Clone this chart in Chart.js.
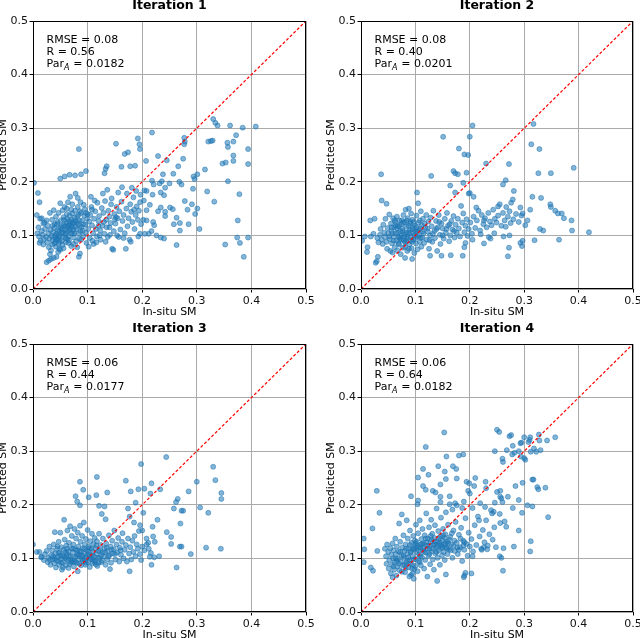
<!DOCTYPE html>
<html>
<head>
<meta charset="utf-8">
<script src="https://cdn.jsdelivr.net/npm/chart.js@4.4.0/dist/chart.umd.min.js"></script>
<style>
  html, body { margin: 0; padding: 0; background: #fff; }
  #fig { position: relative; width: 640px; height: 638px; overflow: hidden; }
  .panel { position: absolute; }
</style>
</head>
<body>
<div id="fig">
  <div class="panel" style="left:0;top:0"><canvas id="c1" width="320" height="320"></canvas></div>
  <div class="panel" style="left:320px;top:0"><canvas id="c2" width="320" height="320"></canvas></div>
  <div class="panel" style="left:0;top:320px"><canvas id="c3" width="320" height="318"></canvas></div>
  <div class="panel" style="left:320px;top:320px"><canvas id="c4" width="320" height="318"></canvas></div>
</div>
<script>
// ==================== DATA ====================
const panelTitles = ['Iteration 1', 'Iteration 2', 'Iteration 3', 'Iteration 4'];
const rmseValues = ['0.08', '0.08', '0.06', '0.06'];
const rValues = ['0.56', '0.40', '0.44', '0.64'];
const parValues = ['0.0182', '0.0201', '0.0177', '0.0182'];
const tickValues = [0, 0.1, 0.2, 0.3, 0.4, 0.5];
const oneToOne = [0, 0.5];

// [in-situ, predicted]
const iter1Points = [
  [0.002,0.198],[0.009,0.179],[0.012,0.162],[0.084,0.261],[0.097,0.22],[0.058,0.21],[0.067,0.213],[0.077,0.212],
  [0.05,0.206],[0.088,0.214],[0.152,0.271],[0.135,0.229],[0.133,0.224],[0.131,0.216],[0.168,0.252],[0.174,0.255],
  [0.192,0.281],[0.195,0.27],[0.196,0.261],[0.218,0.292],[0.207,0.239],[0.162,0.228],[0.178,0.229],[0.187,0.23],
  [0.229,0.248],[0.245,0.24],[0.275,0.243],[0.277,0.282],[0.278,0.275],[0.277,0.27],[0.257,0.215],[0.266,0.229],
  [0.268,0.2],[0.272,0.195],[0.294,0.21],[0.301,0.214],[0.296,0.205],[0.293,0.187],[0.315,0.223],[0.321,0.275],
  [0.326,0.276],[0.329,0.277],[0.33,0.317],[0.334,0.31],[0.338,0.305],[0.361,0.305],[0.384,0.301],[0.408,0.303],
  [0.372,0.287],[0.367,0.275],[0.356,0.273],[0.357,0.265],[0.394,0.261],[0.367,0.249],[0.367,0.239],[0.347,0.234],
  [0.353,0.236],[0.394,0.233],[0.357,0.201],[0.319,0.182],[0.332,0.163],[0.378,0.177],[0.278,0.164],[0.291,0.158],
  [0.301,0.15],[0.283,0.148],[0.297,0.14],[0.305,0.112],[0.285,0.121],[0.269,0.109],[0.269,0.123],[0.258,0.121],
  [0.263,0.133],[0.375,0.128],[0.374,0.096],[0.379,0.086],[0.394,0.096],[0.352,0.083],[0.386,0.06],[0.263,0.082],
  [0.24,0.094],[0.234,0.096],[0.226,0.1],[0.217,0.108],[0.222,0.119],[0.22,0.125],[0.229,0.145],[0.234,0.152],
  [0.242,0.144],[0.242,0.136],[0.251,0.152],[0.256,0.149],[0.234,0.18],[0.24,0.175],[0.242,0.189],[0.25,0.197],
  [0.236,0.201],[0.232,0.197],[0.238,0.214],[0.218,0.202],[0.221,0.195],[0.219,0.176],[0.208,0.183],[0.204,0.184],
  [0.214,0.157],[0.208,0.147],[0.203,0.165],[0.202,0.129],[0.208,0.128],[0.205,0.103],[0.212,0.103],[0.196,0.103],
  [0.008,0.104],[0.011,0.098],[0.014,0.09],[0.012,0.086],[0.018,0.101],[0.02,0.093],[0.016,0.108],[0.022,0.112],
  [0.024,0.097],[0.026,0.087],[0.019,0.083],[0.028,0.104],[0.03,0.094],[0.027,0.118],[0.021,0.124],[0.025,0.128],
  [0.013,0.131],[0.031,0.142],[0.029,0.078],[0.033,0.072],[0.025,0.05],[0.029,0.053],[0.033,0.056],[0.038,0.058],
  [0.043,0.06],[0.031,0.065],[0.035,0.083],[0.034,0.099],[0.036,0.091],[0.037,0.106],[0.039,0.114],[0.04,0.096],
  [0.041,0.088],[0.042,0.079],[0.043,0.103],[0.044,0.121],[0.045,0.11],[0.046,0.092],[0.047,0.084],[0.048,0.075],
  [0.049,0.099],[0.05,0.115],[0.051,0.128],[0.052,0.105],[0.053,0.09],[0.054,0.082],[0.055,0.097],[0.056,0.134],
  [0.057,0.12],[0.058,0.111],[0.059,0.102],[0.06,0.087],[0.035,0.129],[0.038,0.147],[0.042,0.135],[0.047,0.142],
  [0.05,0.16],[0.054,0.147],[0.058,0.153],[0.062,0.14],[0.04,0.121],[0.044,0.094],[0.048,0.108],[0.052,0.118],
  [0.056,0.076],[0.046,0.069],[0.05,0.073],[0.061,0.123],[0.062,0.131],[0.063,0.116],[0.064,0.108],[0.065,0.098],
  [0.066,0.127],[0.067,0.137],[0.068,0.119],[0.069,0.113],[0.07,0.104],[0.071,0.129],[0.072,0.141],[0.073,0.122],
  [0.074,0.11],[0.075,0.096],[0.076,0.133],[0.077,0.146],[0.078,0.116],[0.079,0.089],[0.08,0.125],[0.082,0.153],
  [0.083,0.138],[0.084,0.104],[0.085,0.094],[0.086,0.118],[0.087,0.162],[0.088,0.142],[0.09,0.128],[0.091,0.109],
  [0.092,0.099],[0.094,0.137],[0.095,0.149],[0.096,0.12],[0.098,0.086],[0.099,0.131],[0.064,0.162],[0.068,0.172],
  [0.072,0.158],[0.078,0.178],[0.082,0.17],[0.065,0.086],[0.07,0.08],[0.074,0.084],[0.081,0.078],[0.084,0.06],
  [0.086,0.066],[0.088,0.092],[0.06,0.095],[0.066,0.091],[0.076,0.104],[0.093,0.157],[0.097,0.142],[0.101,0.112],
  [0.103,0.126],[0.104,0.095],[0.105,0.138],[0.107,0.153],[0.108,0.119],[0.11,0.104],[0.111,0.084],[0.112,0.131],
  [0.114,0.145],[0.115,0.112],[0.117,0.098],[0.118,0.161],[0.12,0.127],[0.121,0.136],[0.123,0.109],[0.124,0.092],
  [0.126,0.151],[0.127,0.118],[0.129,0.142],[0.131,0.103],[0.132,0.164],[0.134,0.129],[0.135,0.115],[0.137,0.097],
  [0.138,0.146],[0.14,0.135],[0.142,0.123],[0.143,0.158],[0.145,0.075],[0.147,0.073],[0.148,0.108],[0.149,0.14],
  [0.106,0.172],[0.113,0.165],[0.128,0.178],[0.136,0.185],[0.144,0.169],[0.102,0.079],[0.109,0.09],[0.116,0.087],
  [0.122,0.1],[0.133,0.088],[0.141,0.101],[0.151,0.122],[0.153,0.153],[0.155,0.132],[0.157,0.097],[0.158,0.145],
  [0.16,0.111],[0.162,0.163],[0.164,0.127],[0.166,0.138],[0.168,0.104],[0.17,0.075],[0.171,0.15],[0.173,0.117],
  [0.175,0.132],[0.177,0.092],[0.178,0.158],[0.18,0.144],[0.182,0.125],[0.184,0.171],[0.186,0.112],[0.188,0.138],
  [0.19,0.154],[0.192,0.129],[0.194,0.146],[0.196,0.162],[0.198,0.121],[0.156,0.18],[0.163,0.19],[0.172,0.178],
  [0.181,0.189],[0.189,0.183],[0.197,0.176],[0.154,0.1],[0.166,0.095],[0.179,0.088],[0.193,0.098],[0.152,0.134],
  [0.185,0.148],[0.007,0.138],[0.016,0.132],[0.019,0.122],[0.01,0.115],
  [0.032,0.11],[0.036,0.118],[0.041,0.1],[0.045,0.125],[0.049,0.088],[0.053,0.112],[0.057,0.129],[0.061,0.105],
  [0.063,0.093],[0.067,0.11],[0.069,0.125],[0.071,0.117],[0.073,0.103],[0.077,0.127],[0.079,0.112],[0.081,0.135],
  [0.083,0.121],[0.085,0.128],[0.087,0.108],[0.089,0.115],[0.093,0.121],[0.097,0.105],[0.039,0.085],[0.043,0.092],
  [0.047,0.1],[0.055,0.106],[0.059,0.117],[0.065,0.119],[0.075,0.123],[0.062,0.15],[0.07,0.148],[0.086,0.145],
  [0.1,0.14],[0.108,0.148],[0.12,0.118],[0.13,0.125],[0.14,0.115],[0.15,0.13]
];

const iter2Points = [
  [0.037,0.214],[0.038,0.165],[0.047,0.159],[0.103,0.18],[0.151,0.284],[0.205,0.305],[0.2,0.284],[0.18,0.262],
  [0.19,0.251],[0.197,0.25],[0.129,0.211],[0.17,0.22],[0.173,0.216],[0.178,0.214],[0.164,0.193],[0.173,0.18],
  [0.194,0.217],[0.188,0.198],[0.2,0.179],[0.198,0.178],[0.207,0.172],[0.23,0.234],[0.272,0.233],[0.261,0.195],
  [0.266,0.203],[0.281,0.183],[0.279,0.167],[0.317,0.308],[0.313,0.27],[0.328,0.261],[0.326,0.216],[0.349,0.216],
  [0.391,0.226],[0.315,0.172],[0.331,0.17],[0.348,0.158],[0.349,0.153],[0.357,0.146],[0.362,0.141],[0.369,0.141],
  [0.373,0.132],[0.387,0.128],[0.388,0.109],[0.419,0.106],[0.329,0.112],[0.335,0.109],[0.364,0.092],[0.319,0.091],
  [0.311,0.148],[0.293,0.152],[0.297,0.141],[0.302,0.119],[0.306,0.128],[0.293,0.086],[0.296,0.08],[0.297,0.09],
  [0.272,0.077],[0.27,0.061],[0.273,0.1],[0.266,0.116],[0.275,0.123],[0.226,0.085],[0.238,0.094],[0.205,0.092],
  [0.19,0.078],[0.192,0.086],[0.187,0.062],[0.165,0.063],[0.148,0.062],[0.127,0.062],[0.094,0.056],[0.081,0.058],
  [0.029,0.052],[0.027,0.049],[0.031,0.06],[0.002,0.09],[0.011,0.069],[0.012,0.078],[0.007,0.098],[0.018,0.098],
  [0.023,0.103],[0.017,0.128],[0.025,0.131],
  [0.03,0.095],[0.032,0.087],[0.035,0.101],[0.036,0.112],[0.038,0.092],[0.04,0.084],[0.041,0.12],[0.043,0.105],
  [0.044,0.097],[0.045,0.131],[0.047,0.088],[0.048,0.075],[0.049,0.114],[0.05,0.104],[0.052,0.139],[0.053,0.093],
  [0.054,0.071],[0.055,0.122],[0.056,0.108],[0.057,0.085],[0.058,0.068],[0.059,0.132],[0.06,0.098],[0.061,0.115],
  [0.062,0.078],[0.063,0.125],[0.064,0.104],[0.065,0.09],[0.066,0.135],[0.067,0.072],[0.068,0.117],[0.069,0.097],
  [0.07,0.083],[0.071,0.128],[0.072,0.108],[0.073,0.065],[0.074,0.121],[0.075,0.092],[0.076,0.112],[0.077,0.077],
  [0.078,0.138],[0.079,0.102],[0.08,0.125],[0.081,0.087],[0.082,0.148],[0.083,0.116],[0.084,0.094],[0.085,0.071],
  [0.086,0.132],[0.087,0.106],[0.088,0.15],[0.089,0.083],[0.09,0.122],[0.091,0.098],[0.092,0.141],[0.093,0.076],
  [0.094,0.112],[0.095,0.129],[0.096,0.092],[0.097,0.105],[0.098,0.067],[0.099,0.118],[0.1,0.095],[0.101,0.085],
  [0.102,0.137],[0.103,0.108],[0.104,0.074],[0.105,0.16],[0.106,0.124],[0.107,0.1],[0.108,0.088],[0.109,0.113],
  [0.11,0.145],[0.111,0.079],[0.112,0.119],[0.113,0.096],[0.114,0.131],[0.115,0.104],[0.116,0.086],[0.118,0.115],
  [0.12,0.138],[0.121,0.092],[0.123,0.107],[0.124,0.126],[0.125,0.075],[0.127,0.1],[0.128,0.133],[0.13,0.117],
  [0.131,0.088],[0.133,0.146],[0.135,0.108],[0.136,0.095],[0.138,0.127],[0.14,0.071],[0.141,0.115],[0.143,0.138],
  [0.145,0.101],[0.146,0.084],[0.148,0.122],[0.15,0.113],[0.152,0.094],[0.154,0.131],[0.156,0.105],[0.158,0.142],
  [0.16,0.118],[0.162,0.089],[0.164,0.1],[0.166,0.127],[0.168,0.111],[0.17,0.136],[0.172,0.096],[0.174,0.12],
  [0.176,0.105],[0.178,0.131],[0.18,0.113],[0.182,0.098],[0.184,0.155],[0.186,0.124],[0.188,0.141],[0.19,0.106],
  [0.192,0.118],[0.194,0.13],[0.196,0.099],[0.198,0.112],
  [0.201,0.124],[0.204,0.103],[0.207,0.135],[0.21,0.114],[0.213,0.128],[0.216,0.146],[0.219,0.109],[0.222,0.138],
  [0.225,0.121],[0.228,0.132],[0.231,0.115],[0.234,0.142],[0.237,0.126],[0.24,0.119],[0.243,0.148],[0.246,0.131],
  [0.249,0.124],[0.252,0.137],[0.255,0.158],[0.258,0.118],[0.261,0.142],[0.264,0.128],[0.267,0.153],[0.27,0.135],
  [0.273,0.145],[0.276,0.161],[0.28,0.13],[0.285,0.14],[0.29,0.125],[0.295,0.137],[0.22,0.102],[0.245,0.104],
  [0.262,0.098],[0.235,0.097],[0.212,0.152],[0.226,0.128],[0.252,0.154],
  [0.062,0.128],[0.07,0.118],[0.078,0.124],[0.084,0.128],[0.091,0.125],[0.066,0.113],[0.074,0.1],[0.083,0.105],
  [0.09,0.11],[0.098,0.1],[0.058,0.104],[0.072,0.093],[0.081,0.079],[0.088,0.075],[0.094,0.088],[0.102,0.115],
  [0.108,0.128],[0.069,0.085],[0.079,0.09],[0.086,0.097],
  [0.052,0.098],[0.056,0.115],[0.06,0.09],[0.064,0.118],[0.068,0.105],[0.071,0.096],[0.075,0.128],[0.077,0.108],
  [0.08,0.098],[0.083,0.089],[0.087,0.118],[0.089,0.104],[0.092,0.09],[0.095,0.115],[0.097,0.125],[0.1,0.107],
  [0.104,0.098],[0.106,0.11],[0.11,0.095],[0.113,0.107],[0.117,0.122],[0.122,0.113],[0.126,0.091],[0.132,0.103],
  [0.139,0.112],[0.144,0.125],[0.15,0.1],[0.157,0.112],[0.163,0.121],[0.171,0.108]
];

const iter3Points = [
  [0.0,0.126],[0.086,0.243],[0.086,0.199],[0.078,0.216],[0.081,0.206],[0.092,0.228],[0.102,0.214],[0.117,0.252],
  [0.116,0.218],[0.136,0.223],[0.121,0.198],[0.131,0.197],[0.126,0.183],[0.133,0.173],[0.17,0.245],[0.179,0.225],
  [0.193,0.229],[0.198,0.276],[0.204,0.23],[0.217,0.24],[0.215,0.221],[0.233,0.229],[0.244,0.289],[0.188,0.204],
  [0.202,0.185],[0.174,0.193],[0.177,0.178],[0.185,0.167],[0.219,0.159],[0.228,0.172],[0.2,0.152],[0.196,0.162],
  [0.262,0.205],[0.265,0.211],[0.258,0.193],[0.272,0.189],[0.275,0.189],[0.285,0.225],[0.3,0.243],[0.306,0.195],
  [0.321,0.185],[0.33,0.271],[0.334,0.246],[0.345,0.222],[0.345,0.211],[0.27,0.165],[0.245,0.149],[0.253,0.14],
  [0.253,0.127],[0.269,0.122],[0.272,0.122],[0.289,0.108],[0.317,0.12],[0.344,0.118],[0.263,0.083],[0.231,0.104],
  [0.222,0.102],[0.214,0.103],[0.217,0.088],[0.208,0.137],[0.211,0.129],[0.22,0.141],[0.223,0.131],[0.177,0.076],
  [0.141,0.08],[0.082,0.076],[0.015,0.102],[0.007,0.112],
  [0.012,0.112],[0.016,0.103],[0.02,0.097],[0.022,0.108],[0.025,0.114],[0.027,0.093],[0.028,0.101],[0.03,0.122],
  [0.032,0.088],[0.033,0.106],[0.035,0.115],[0.036,0.098],[0.038,0.126],[0.039,0.091],[0.04,0.149],[0.041,0.109],
  [0.042,0.083],[0.044,0.118],[0.045,0.102],[0.046,0.095],[0.047,0.131],[0.048,0.088],[0.049,0.111],[0.05,0.148],
  [0.051,0.099],[0.052,0.121],[0.053,0.079],[0.054,0.106],[0.055,0.093],[0.056,0.116],[0.057,0.172],[0.058,0.135],
  [0.059,0.101],[0.06,0.087],[0.061,0.124],[0.062,0.108],[0.063,0.152],[0.064,0.096],[0.065,0.113],[0.066,0.129],
  [0.067,0.089],[0.068,0.16],[0.069,0.104],[0.07,0.119],[0.071,0.142],[0.072,0.094],[0.073,0.111],[0.074,0.126],
  [0.075,0.085],[0.076,0.155],[0.077,0.102],[0.078,0.117],[0.079,0.137],[0.08,0.092],[0.081,0.108],[0.082,0.148],
  [0.083,0.122],[0.084,0.098],[0.085,0.113],[0.086,0.161],[0.087,0.131],[0.088,0.087],[0.089,0.104],[0.09,0.142],
  [0.091,0.119],[0.092,0.095],[0.093,0.167],[0.094,0.109],[0.095,0.126],[0.096,0.088],[0.097,0.136],[0.098,0.101],
  [0.099,0.115],[0.1,0.153],[0.101,0.093],[0.102,0.122],[0.103,0.107],[0.104,0.084],[0.105,0.132],[0.106,0.099],
  [0.107,0.118],[0.108,0.146],[0.109,0.091],[0.11,0.112],[0.111,0.127],[0.112,0.103],[0.113,0.138],[0.114,0.095],
  [0.115,0.119],[0.116,0.108],[0.117,0.132],[0.118,0.086],[0.12,0.114],[0.121,0.146],[0.122,0.101],[0.124,0.125],
  [0.125,0.093],[0.127,0.111],[0.128,0.137],[0.13,0.104],[0.131,0.119],[0.133,0.088],[0.134,0.128],[0.136,0.098],
  [0.137,0.113],[0.139,0.143],[0.14,0.106],[0.142,0.122],[0.143,0.092],[0.145,0.133],[0.146,0.109],[0.148,0.117],
  [0.149,0.152],[0.151,0.098],[0.153,0.126],[0.154,0.111],[0.156,0.138],[0.158,0.094],[0.159,0.12],[0.161,0.107],
  [0.163,0.131],[0.164,0.147],[0.166,0.1],[0.168,0.116],[0.17,0.125],[0.172,0.094],[0.174,0.137],[0.176,0.109],
  [0.178,0.121],[0.18,0.098],[0.182,0.133],[0.184,0.112],[0.186,0.142],[0.188,0.104],[0.19,0.126],[0.192,0.118],
  [0.194,0.151],[0.196,0.108],[0.198,0.097],[0.2,0.122],[0.204,0.115],[0.208,0.126],[0.212,0.118],[0.216,0.11],
  [0.04,0.1],[0.05,0.105],[0.06,0.112],[0.07,0.098],[0.08,0.104],[0.09,0.099],[0.1,0.106],[0.11,0.098],
  [0.12,0.092],[0.055,0.083],[0.065,0.082],[0.075,0.095],[0.085,0.09],[0.095,0.097],[0.105,0.101],[0.115,0.089],
  [0.125,0.106],[0.135,0.12],[0.045,0.122],[0.062,0.118],
  [0.031,0.097],[0.037,0.104],[0.043,0.096],[0.047,0.11],[0.052,0.092],[0.057,0.104],[0.061,0.099],[0.066,0.104],
  [0.069,0.093],[0.073,0.118],[0.077,0.093],[0.081,0.115],[0.084,0.107],[0.088,0.113],[0.091,0.105],[0.094,0.118],
  [0.097,0.092],[0.101,0.113],[0.104,0.119],[0.108,0.106],[0.112,0.094],[0.116,0.124],[0.119,0.101],[0.123,0.115],
  [0.127,0.096],[0.132,0.111],[0.138,0.103],[0.144,0.116],[0.15,0.108],[0.16,0.115]
];

const iter4Points = [
  [0.005,0.137],[0.006,0.117],[0.005,0.093],[0.018,0.083],[0.022,0.077],[0.029,0.226],[0.034,0.185],[0.021,0.156],
  [0.03,0.114],[0.153,0.335],[0.119,0.308],[0.157,0.29],[0.18,0.292],[0.188,0.294],[0.142,0.272],[0.169,0.272],
  [0.175,0.267],[0.176,0.249],[0.154,0.262],[0.156,0.248],[0.114,0.267],[0.105,0.251],[0.124,0.256],[0.146,0.238],
  [0.114,0.235],[0.119,0.228],[0.132,0.226],[0.137,0.223],[0.146,0.215],[0.092,0.216],[0.105,0.208],[0.104,0.201],
  [0.146,0.205],[0.163,0.216],[0.194,0.243],[0.197,0.226],[0.2,0.221],[0.199,0.24],[0.21,0.25],[0.208,0.235],
  [0.189,0.206],[0.163,0.201],[0.173,0.203],[0.229,0.243],[0.219,0.203],[0.23,0.231],[0.246,0.3],[0.25,0.34],
  [0.254,0.336],[0.26,0.286],[0.261,0.28],[0.268,0.302],[0.273,0.328],[0.276,0.33],[0.279,0.31],[0.282,0.297],
  [0.278,0.294],[0.293,0.315],[0.295,0.316],[0.3,0.326],[0.29,0.3],[0.294,0.29],[0.3,0.287],[0.302,0.284],
  [0.308,0.317],[0.31,0.321],[0.312,0.299],[0.311,0.326],[0.318,0.305],[0.322,0.299],[0.327,0.331],[0.328,0.32],
  [0.33,0.302],[0.342,0.32],[0.357,0.326],[0.315,0.247],[0.317,0.247],[0.324,0.233],[0.326,0.229],[0.339,0.232],
  [0.344,0.177],[0.306,0.199],[0.315,0.197],[0.312,0.132],[0.311,0.113],[0.296,0.185],[0.279,0.194],[0.29,0.209],
  [0.284,0.235],[0.297,0.241],[0.27,0.215],[0.258,0.212],[0.26,0.205],[0.25,0.224],[0.256,0.226],[0.246,0.204],
  [0.256,0.215],[0.244,0.187],[0.241,0.184],[0.255,0.183],[0.256,0.166],[0.264,0.169],[0.267,0.159],[0.29,0.152],
  [0.281,0.122],[0.262,0.119],[0.255,0.104],[0.258,0.101],[0.261,0.077],[0.226,0.121],[0.232,0.117],[0.222,0.116],
  [0.205,0.104],[0.203,0.072],[0.189,0.065],[0.19,0.068],[0.192,0.073],[0.14,0.058],[0.156,0.07],[0.097,0.062],
  [0.089,0.066],
  [0.044,0.118],[0.046,0.104],[0.047,0.09],[0.048,0.126],[0.05,0.112],[0.051,0.081],[0.052,0.097],[0.054,0.119],
  [0.055,0.072],[0.056,0.107],[0.057,0.088],[0.058,0.128],[0.059,0.1],[0.06,0.115],[0.061,0.079],[0.062,0.093],
  [0.063,0.137],[0.064,0.108],[0.065,0.068],[0.066,0.122],[0.067,0.085],[0.068,0.099],[0.069,0.113],[0.07,0.165],
  [0.071,0.078],[0.072,0.131],[0.073,0.094],[0.074,0.106],[0.075,0.182],[0.076,0.12],[0.077,0.087],[0.078,0.143],
  [0.079,0.101],[0.08,0.114],[0.081,0.074],[0.082,0.126],[0.083,0.092],[0.084,0.171],[0.085,0.108],[0.086,0.137],
  [0.087,0.083],[0.088,0.119],[0.089,0.097],[0.09,0.152],[0.091,0.111],[0.092,0.069],[0.093,0.129],[0.094,0.088],
  [0.095,0.104],[0.096,0.142],[0.097,0.117],[0.098,0.08],[0.099,0.133],[0.1,0.099],[0.101,0.163],[0.102,0.112],
  [0.103,0.124],[0.104,0.076],[0.105,0.147],[0.106,0.095],[0.107,0.107],[0.108,0.171],[0.109,0.12],[0.11,0.087],
  [0.111,0.136],[0.112,0.102],[0.113,0.155],[0.114,0.115],[0.115,0.128],[0.116,0.081],[0.117,0.143],[0.118,0.097],
  [0.119,0.111],[0.12,0.184],[0.121,0.124],[0.122,0.066],[0.123,0.137],[0.124,0.105],[0.125,0.158],[0.126,0.118],
  [0.127,0.089],[0.128,0.131],[0.129,0.172],[0.13,0.113],[0.131,0.146],[0.132,0.098],[0.133,0.125],[0.134,0.079],
  [0.135,0.138],[0.136,0.162],[0.137,0.109],[0.138,0.12],[0.139,0.193],[0.14,0.132],[0.141,0.101],[0.142,0.151],
  [0.143,0.115],[0.144,0.127],[0.145,0.088],[0.146,0.141],[0.147,0.176],[0.148,0.119],[0.149,0.106],[0.15,0.134],
  [0.151,0.155],[0.152,0.112],[0.153,0.125],[0.154,0.097],[0.155,0.145],[0.156,0.186],[0.157,0.12],[0.158,0.131],
  [0.159,0.108],[0.16,0.163],[0.162,0.117],[0.164,0.14],[0.166,0.126],[0.168,0.101],[0.17,0.152],[0.172,0.114],
  [0.174,0.168],[0.176,0.129],[0.178,0.108],[0.18,0.144],[0.182,0.121],[0.184,0.157],[0.186,0.095],[0.188,0.133],
  [0.19,0.116],[0.192,0.175],[0.194,0.127],[0.196,0.105],[0.198,0.148],[0.2,0.122],[0.203,0.136],[0.206,0.113],
  [0.209,0.162],[0.212,0.125],[0.215,0.178],[0.218,0.141],[0.221,0.118],[0.224,0.153],[0.227,0.13],[0.23,0.171],
  [0.233,0.124],[0.236,0.145],[0.239,0.19],[0.242,0.135],[0.245,0.158],[0.248,0.121],[0.205,0.194],[0.217,0.171],
  [0.228,0.196],[0.186,0.194],[0.176,0.199],[0.168,0.191],
  [0.09,0.125],[0.095,0.118],[0.1,0.128],[0.105,0.121],[0.11,0.126],[0.115,0.119],[0.12,0.13],[0.125,0.124],
  [0.13,0.135],[0.135,0.126],[0.14,0.123],[0.145,0.13],[0.15,0.121],[0.085,0.095],[0.09,0.09],[0.1,0.086],
  [0.108,0.093],[0.06,0.085],[0.07,0.09],[0.075,0.075],[0.082,0.082],[0.095,0.072],[0.058,0.065],[0.064,0.1],
  [0.154,0.138],[0.16,0.128],[0.165,0.115],[0.17,0.123],[0.18,0.116],[0.19,0.13],
  [0.072,0.112],[0.078,0.105],[0.083,0.118],[0.087,0.102],[0.092,0.113],[0.096,0.098],[0.099,0.121],[0.102,0.131],
  [0.106,0.115],[0.109,0.104],[0.112,0.127],[0.116,0.112],[0.119,0.137],[0.122,0.118],[0.126,0.108],[0.128,0.142],
  [0.132,0.118],[0.136,0.131],[0.139,0.112],[0.143,0.138],[0.147,0.124],[0.151,0.143],[0.155,0.128],[0.158,0.118],
  [0.162,0.135],[0.167,0.147],[0.172,0.133],[0.177,0.12],[0.183,0.137],[0.188,0.124],[0.066,0.095],[0.08,0.088],
  [0.094,0.081]
];

const allPoints = [iter1Points, iter2Points, iter3Points, iter4Points];

// plot area inside each canvas
const panelAreas = [
  { left: 33, top: 21, right: 306, bottom: 289, w: 320, h: 320 },
  { left: 41, top: 21, right: 313, bottom: 289, w: 320, h: 320 },
  { left: 33, top: 24, right: 306, bottom: 292, w: 320, h: 318 },
  { left: 41, top: 24, right: 313, bottom: 292, w: 320, h: 318 },
];

const FONT = '"DejaVu Sans", sans-serif';

function decorPlugin(i) {
  return {
    id: 'decor' + i,
    afterDraw(chart) {
      const { ctx, chartArea: a } = chart;
      ctx.save();
      // frame
      ctx.strokeStyle = '#000';
      ctx.lineWidth = 1;
      ctx.strokeRect(a.left + 0.5, a.top + 0.5, a.right - a.left - 1, a.bottom - a.top - 1);

      ctx.fillStyle = '#000';
      // title
      ctx.font = 'bold 12.5px ' + FONT;
      ctx.textAlign = 'center';
      ctx.textBaseline = 'alphabetic';
      ctx.fillText(panelTitles[i], (a.left + a.right) / 2, a.top - 12);

      // axis titles
      ctx.font = '11px ' + FONT;
      ctx.fillText('In-situ SM', (a.left + a.right) / 2, a.bottom + 25.5);
      ctx.save();
      ctx.translate(a.left - 29.5, (a.top + a.bottom) / 2);
      ctx.rotate(-Math.PI / 2);
      ctx.textBaseline = 'middle';
      ctx.fillText('Predicted SM', 0, 0);
      ctx.restore();

      // stats box
      const x0 = a.left + 13.5;
      ctx.textAlign = 'left';
      ctx.font = '11px ' + FONT;
      ctx.fillText('RMSE = ' + rmseValues[i], x0, a.top + 22);
      ctx.fillText('R = ' + rValues[i], x0, a.top + 34);
      const y3 = a.top + 46;
      ctx.fillText('Par', x0, y3);
      let x = x0 + ctx.measureText('Par').width;
      ctx.font = 'italic 8px ' + FONT;
      ctx.fillText('A', x, y3 + 2.5);
      x += ctx.measureText('A').width + 0.5;
      ctx.font = '11px ' + FONT;
      ctx.fillText(' = ' + parValues[i], x, y3);
      ctx.restore();
    },
  };
}

function makeAxis(i, isX) {
  const p = panelAreas[i];
  return {
    type: 'linear',
    min: tickValues[0],
    max: tickValues[tickValues.length - 1],
    afterBuildTicks: (s) => { s.ticks = tickValues.map((v) => ({ value: v })); },
    afterFit: (s) => {
      if (isX) s.height = p.h - p.bottom;
      else s.width = p.left;
      s.paddingLeft = 0; s.paddingRight = 0; s.paddingTop = 0; s.paddingBottom = 0;
    },
    border: { display: false },
    grid: { color: '#aaaaaa', lineWidth: 1, tickColor: '#000', tickLength: 3.5, drawTicks: true },
    ticks: {
      autoSkip: false,
      maxRotation: 0,
      padding: isX ? 2 : 1.5,
      color: '#111',
      font: { family: FONT, size: 11 },
      callback: (v) => Number(v).toFixed(1),
    },
  };
}

allPoints.forEach((pts, i) => {
  const p = panelAreas[i];
  new Chart(document.getElementById('c' + (i + 1)), {
    type: 'scatter',
    data: {
      datasets: [
        {
          type: 'line',
          data: oneToOne.map((v) => ({ x: v, y: v })),
          borderColor: '#ff0000',
          borderWidth: 1.2,
          borderDash: [3, 2],
          pointRadius: 0,
          fill: false,
        },
        {
          data: pts.map(([x, y]) => ({ x, y })),
          backgroundColor: 'rgba(31,119,180,0.55)',
          borderColor: 'rgba(31,119,180,0.75)',
          borderWidth: 0.7,
          pointRadius: 2.5,
        },
      ],
    },
    options: {
      responsive: false,
      animation: false,
      devicePixelRatio: 1,
      layout: { padding: { left: 0, top: p.top, right: p.w - p.right, bottom: 0 } },
      plugins: { legend: { display: false }, tooltip: { enabled: false }, title: { display: false } },
      scales: { x: makeAxis(i, true), y: makeAxis(i, false) },
    },
    plugins: [decorPlugin(i)],
  });
});
</script>
</body>
</html>
